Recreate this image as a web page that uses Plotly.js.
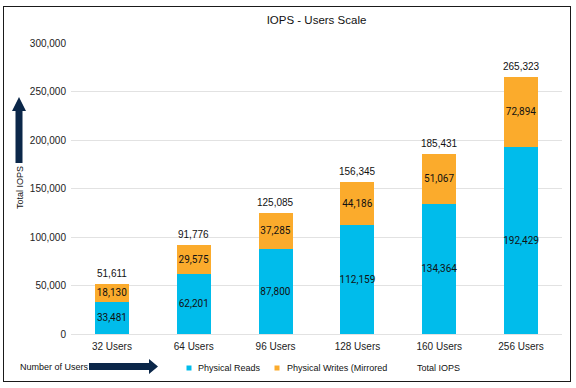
<!DOCTYPE html>
<html>
<head>
<meta charset="utf-8">
<script src="https://cdn.plot.ly/plotly-3.0.1.min.js"></script>
<style>
  html, body { margin: 0; padding: 0; background: #fff; }
  #wrap { position: relative; width: 576px; height: 388px; }
  #chart { width: 576px; height: 388px; }
  #frame { position: absolute; left: 3px; top: 6px; width: 566px; height: 374px;
           border: 1.5px solid #1a1a1a; pointer-events: none; }
</style>
</head>
<body>
<div id="wrap"><div id="chart"></div><div id="frame"></div></div>
<script>
// ---- data ----
const categories = ["32 Users", "64 Users", "96 Users", "128 Users", "160 Users", "256 Users"];
const physicalReads = [33481, 62201, 87800, 112159, 134364, 192429];
const physicalWrites = [18130, 29575, 37285, 44186, 51067, 72894];
const totalIops = [51611, 91776, 125085, 156345, 185431, 265323];
const seriesNames = ["Physical Reads", "Physical Writes (Mirrored", "Total IOPS"];
const yTickVals = [0, 50000, 100000, 150000, 200000, 250000, 300000];

// ---- style ----
const BLUE = "#00BCEB", ORANGE = "#FBAB2C", NAVY = "#0B2749";
const W = 576, H = 388;
const M = {l: 71, r: 14, t: 43, b: 54};
const PW = W - M.l - M.r, PH = H - M.t - M.b;
const px = x => (x - M.l) / PW;
const py = y => (H - M.b - y) / PH;
const fmt = v => v.toLocaleString("en-US");

const traces = [
  {
    type: "bar", name: seriesNames[0], x: categories, y: physicalReads,
    marker: {color: BLUE, line: {width: 0}},
    text: physicalReads.map(fmt), textposition: "inside", insidetextanchor: "middle",
    textangle: 0, constraintext: "none",
    textfont: {family: "Roboto, Liberation Sans, Arial", size: 10, color: "#111"},
    hoverinfo: "skip", showlegend: false, cliponaxis: false
  },
  {
    type: "bar", name: seriesNames[1], x: categories, y: physicalWrites,
    marker: {color: ORANGE, line: {width: 0}},
    text: physicalWrites.map(fmt), textposition: "inside", insidetextanchor: "middle",
    textangle: 0, constraintext: "none",
    textfont: {family: "Roboto, Liberation Sans, Arial", size: 10, color: "#111"},
    hoverinfo: "skip", showlegend: false, cliponaxis: false
  }
];

const annotations = categories.map((c, i) => ({
  x: c, y: totalIops[i], xref: "x", yref: "y",
  text: fmt(totalIops[i]), showarrow: false, yanchor: "bottom", yshift: 3,
  font: {family: "Liberation Sans, Arial", size: 10, color: "#111"}
}));

// y-axis title (rotated)
annotations.push({
  xref: "paper", yref: "paper", x: px(20), y: py(188), text: "Total IOPS",
  textangle: -90, showarrow: false, xanchor: "center", yanchor: "middle",
  font: {family: "Liberation Sans, Arial", size: 9, color: "#111"}
});
// x-axis title
annotations.push({
  xref: "paper", yref: "paper", x: px(18), y: py(367), text: "Number of Users",
  showarrow: false, xanchor: "left", yanchor: "middle",
  font: {family: "Liberation Sans, Arial", size: 9, color: "#111"}
});
// legend texts
const legendTextX = [196, 285, 415];
seriesNames.forEach((n, i) => annotations.push({
  xref: "paper", yref: "paper", x: px(legendTextX[i]), y: py(368), text: n,
  showarrow: false, xanchor: "left", yanchor: "middle",
  font: {family: "Liberation Sans, Arial", size: 9, color: "#111"}
}));

function pathFrom(points) {
  return "M" + points.map(p => px(p[0]) + "," + py(p[1])).join(" L") + " Z";
}
const shapes = [
  // up arrow beside y title
  {type: "path", xref: "paper", yref: "paper", fillcolor: NAVY, line: {width: 0},
   path: pathFrom([[15.5,163],[22.5,163],[22.5,111],[26,111],[19,97],[12,111],[15.5,111]])},
  // right arrow beside x title
  {type: "path", xref: "paper", yref: "paper", fillcolor: NAVY, line: {width: 0},
   path: pathFrom([[89,363],[149,363],[149,359],[158,366.5],[149,374],[149,370],[89,370]])},
  // legend squares
  {type: "rect", xref: "paper", yref: "paper", fillcolor: BLUE, line: {width: 0},
   x0: px(186.5), x1: px(191.5), y0: py(370.5), y1: py(365.5)},
  {type: "rect", xref: "paper", yref: "paper", fillcolor: ORANGE, line: {width: 0},
   x0: px(274.5), x1: px(279.5), y0: py(370.5), y1: py(365.5)}
];

const layout = {
  width: W, height: H, margin: M,
  paper_bgcolor: "#fff", plot_bgcolor: "#fff",
  barmode: "stack", bargap: 0.585,
  showlegend: false,
  title: {text: "IOPS - Users Scale", x: 0.5, xref: "paper", xanchor: "center",
          y: 1 - 20 / H, yref: "container", yanchor: "middle",
          font: {family: "Liberation Sans, Arial", size: 11.5, color: "#111"}},
  font: {family: "Liberation Sans, Arial", size: 10, color: "#222"},
  xaxis: {type: "category", range: [-0.5, 5.5], showgrid: false, zeroline: false,
          showline: false, ticks: "outside", ticklen: 3, tickcolor: "rgba(0,0,0,0)",
          tickfont: {size: 10, color: "#222"}, fixedrange: true},
  yaxis: {range: [0, 300000], tickvals: yTickVals, ticktext: yTickVals.map(fmt),
          showgrid: true, gridcolor: "#e2e2e2", gridwidth: 1,
          zeroline: true, zerolinecolor: "#e2e2e2", zerolinewidth: 1,
          showline: false, ticks: "outside", ticklen: 2, tickcolor: "rgba(0,0,0,0)",
          tickfont: {size: 10, color: "#222"}, fixedrange: true},
  annotations: annotations,
  shapes: shapes
};

Plotly.newPlot("chart", traces, layout, {displayModeBar: false, staticPlot: true});
</script>
</body>
</html>
